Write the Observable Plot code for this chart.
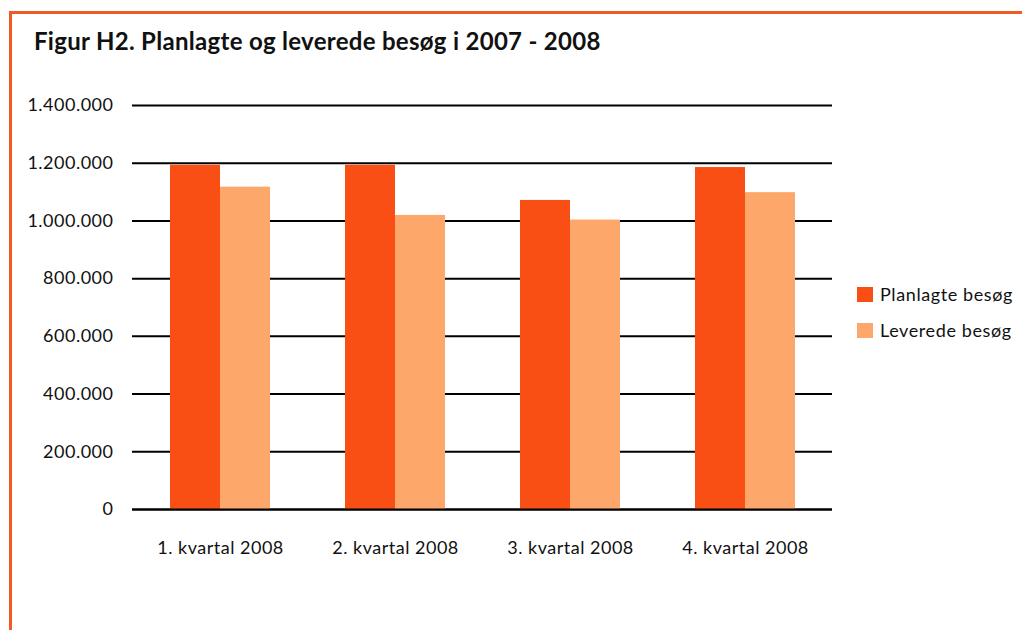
<!DOCTYPE html>
<html>
<head>
<meta charset="utf-8">
<script src="https://cdn.jsdelivr.net/npm/d3@7"></script>
<script src="https://cdn.jsdelivr.net/npm/@observablehq/plot@0.6"></script>
<style>
  html, body { margin: 0; padding: 0; background: #fff; }
  body { width: 1022px; height: 630px; position: relative; overflow: hidden; font-family: Lato, "Open Sans", sans-serif; color: #111; }
  #frame { position: absolute; left: 9px; top: 11px; width: 1030px; height: 640px; border-top: 3px solid #f15a24; border-left: 3px solid #f15a24; box-sizing: border-box; }
  #title { position: absolute; left: 34px; top: 26px; font-weight: 700; font-size: 24px; letter-spacing: 0.3px; white-space: nowrap; }
  #chart { position: absolute; left: 0; top: 0; }
  #chart text { letter-spacing: 0.5px; }
  #legend { position: absolute; left: 857px; top: 284px; font-size: 18px; letter-spacing: 0.6px; }
  .item { display: flex; align-items: center; height: 20px; margin-bottom: 16px; white-space: nowrap; }
  .sw { width: 16px; height: 15px; margin-right: 7px; }
</style>
</head>
<body>
<div id="frame"></div>
<div id="chart"></div>
<div id="title">Figur H2. Planlagte og leverede besøg i 2007 - 2008</div>
<div id="legend"></div>
<script>
const quarters = ["1. kvartal 2008", "2. kvartal 2008", "3. kvartal 2008", "4. kvartal 2008"];
const planlagte = [1193000, 1193000, 1071000, 1185000];
const leverede = [1117000, 1019000, 1003000, 1098000];
const seriesNames = ["Planlagte besøg", "Leverede besøg"];
const seriesColors = ["#f94f14", "#fda86a"];
const yTicks = [0, 200000, 400000, 600000, 800000, 1000000, 1200000, 1400000];

const rows = quarters.map((q, i) => ({quarter: q, planlagte: planlagte[i], leverede: leverede[i]}));
const fmt = d3.formatLocale({decimal: ",", thousands: ".", grouping: [3], currency: ["", ""]}).format(",");

const chart = Plot.plot({
  width: 1022,
  height: 630,
  marginLeft: 132,
  marginRight: 190,
  marginTop: 105,
  marginBottom: 121,
  style: {fontFamily: "Lato, 'Open Sans', sans-serif", fontSize: "18px", color: "#111", background: "transparent"},
  x: {domain: quarters, paddingInner: 0.4286, paddingOuter: 0.2143, label: null},
  y: {domain: [0, 1400000], label: null},
  marks: [
    Plot.ruleY(yTicks, {stroke: "#000", strokeWidth: 2}),
    Plot.barY(rows, {x: "quarter", y: "planlagte", fill: seriesColors[0], insetRight: 50}),
    Plot.barY(rows, {x: "quarter", y: "leverede", fill: seriesColors[1], insetLeft: 50}),
    Plot.ruleY([0], {stroke: "#000", strokeWidth: 2}),
    Plot.axisY({ticks: yTicks, tickFormat: fmt, tickSize: 0, tickPadding: 19, fontSize: 18, label: null}),
    Plot.axisX({tickSize: 0, tickPadding: 32, fontSize: 18, label: null})
  ]
});
document.getElementById("chart").appendChild(chart);

const legend = document.getElementById("legend");
seriesNames.forEach((name, i) => {
  const item = document.createElement("div");
  item.className = "item";
  const sw = document.createElement("span");
  sw.className = "sw";
  sw.style.background = seriesColors[i];
  const t = document.createElement("span");
  t.textContent = name;
  item.appendChild(sw);
  item.appendChild(t);
  legend.appendChild(item);
});
</script>
</body>
</html>
